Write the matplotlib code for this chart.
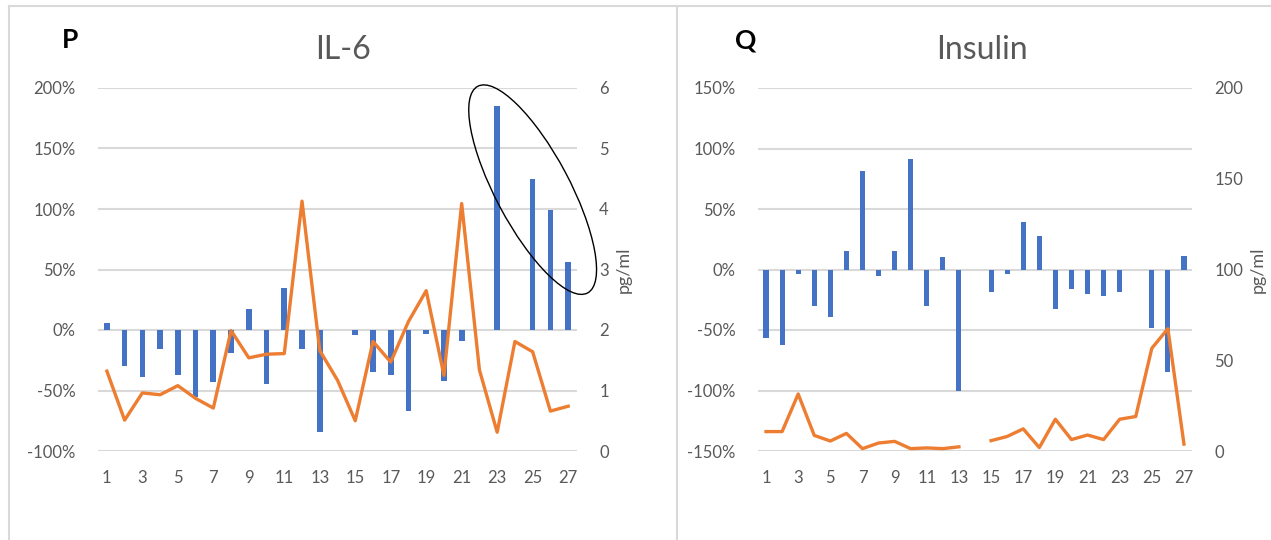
import matplotlib
matplotlib.use("Agg")
from matplotlib import pyplot as plt
from matplotlib.patches import Ellipse
from matplotlib.ticker import FuncFormatter
from matplotlib.lines import Line2D
import matplotlib.transforms as mtransforms
import numpy as np

plt.rcParams['font.family'] = ['Lato', 'DejaVu Sans']

days = list(range(1, 28))
tick_days = days[::2]

# IL-6: % change (bars) and level pg/ml (line)
il6_change = [6, -30, -39, -16, -37, -55, -43, -19, 17, -45, 35, -16, -84, 0,
              -4, -35, -37, -67, -3, -42, -9, 0, 185, 0, 125, 99, 56]
il6_level = [1.32, 0.51, 0.96, 0.93, 1.08, 0.87, 0.71, 1.99, 1.54, 1.60, 1.61,
             4.13, 1.66, 1.17, 0.50, 1.81, 1.47, 2.14, 2.65, 1.25, 4.09, 1.34,
             0.31, 1.81, 1.64, 0.66, 0.74]

# Insulin: % change (bars) and level pg/ml (line, gap on day 14)
ins_change = [-57, -62, -4, -30, -39, 15, 81, -5, 15, 91, -30, 10, -100, 0,
              -19, -4, 39, 28, -33, -16, -20, -22, -19, 0, -48, -85, 11]
ins_level = [10.7, 10.7, 31.4, 8.6, 5.5, 9.7, 1.3, 4.4, 5.3, 1.3, 1.7, 1.3, 2.3,
             np.nan, 5.7, 8.0, 12.2, 1.9, 17.5, 6.3, 8.8, 6.3, 17.5, 19.0, 56.6,
             67.4, 3.8]

BLUE = '#4472C4'
ORANGE = '#ED7D31'
GREY = '#595959'
GRID = '#D9D9D9'

fig = plt.figure(figsize=(12.71, 5.4), dpi=100)

# panel borders
fig.add_artist(Line2D([9/1271, 1], [1 - 6/540]*2, color=GRID, lw=1.5, transform=fig.transFigure))
fig.add_artist(Line2D([9/1271]*2, [0, 1 - 6/540], color=GRID, lw=1.5, transform=fig.transFigure))
fig.add_artist(Line2D([677/1271]*2, [0, 1 - 6/540], color=GRID, lw=1.5, transform=fig.transFigure))


def panel(rect, change, level, pct_lim, pct_ticks, lvl_lim, lvl_ticks, title, letter, letter_x, title_x):
    ax = fig.add_axes(rect)
    ax.bar(days, change, width=0.32, color=BLUE, zorder=2)
    ax.set_xlim(0.5, 27.5)
    ax.set_ylim(*pct_lim)
    ax.set_yticks(pct_ticks)
    ax.yaxis.set_major_formatter(FuncFormatter(lambda v, p: f'{v:.0f}%'))
    ax.set_xticks(tick_days)
    ax.grid(axis='y', color=GRID, lw=1.5, zorder=0)
    ax.set_axisbelow(True)
    for s in ax.spines.values():
        s.set_visible(False)
    ax.tick_params(axis='both', length=0, labelsize=12, labelcolor=GREY)
    ax.tick_params(axis='y', pad=16)
    ax.tick_params(axis='x', pad=14)

    ax2 = ax.twinx()
    ax2.plot(days, level, color=ORANGE, lw=2.4, solid_joinstyle='round', zorder=3)
    ax2.set_ylim(*lvl_lim)
    ax2.set_yticks(lvl_ticks)
    for s in ax2.spines.values():
        s.set_visible(False)
    ax2.tick_params(axis='y', length=0, labelsize=12, labelcolor=GREY, pad=16)
    ax2.set_ylabel('pg/ml', fontsize=13, color=GREY, labelpad=5)

    fig.text(title_x / 1271, 1 - 50/540, title, fontsize=23, color=GREY, ha='center', va='center')
    fig.text(letter_x / 1271, 1 - 40/540, letter, fontsize=19, fontweight='bold', color='black',
             ha='center', va='center')
    return ax, ax2


axL, axL2 = panel([98/1271, 89/540, 479/1271, 363/540], il6_change, il6_level,
                  (-100, 200), [-100, -50, 0, 50, 100, 150, 200], (0, 6), range(0, 7),
                  'IL-6', 'P', 70, 343)
axR, axR2 = panel([758/1271, 89/540, 434/1271, 363/540], ins_change, ins_level,
                  (-150, 150), [-150, -100, -50, 0, 50, 100, 150], (0, 200), [0, 50, 100, 150, 200],
                  'Insulin', 'Q', 746, 982)

# ellipse highlighting days 23-27 on IL-6
cx, cy = axL.transData.transform((25, 116))
ell = Ellipse((cx, cy), width=234, height=74, angle=-62, fill=False, edgecolor='black', lw=1.0,
              transform=mtransforms.IdentityTransform())
fig.add_artist(ell)

fig.savefig('out.png', dpi=100)
